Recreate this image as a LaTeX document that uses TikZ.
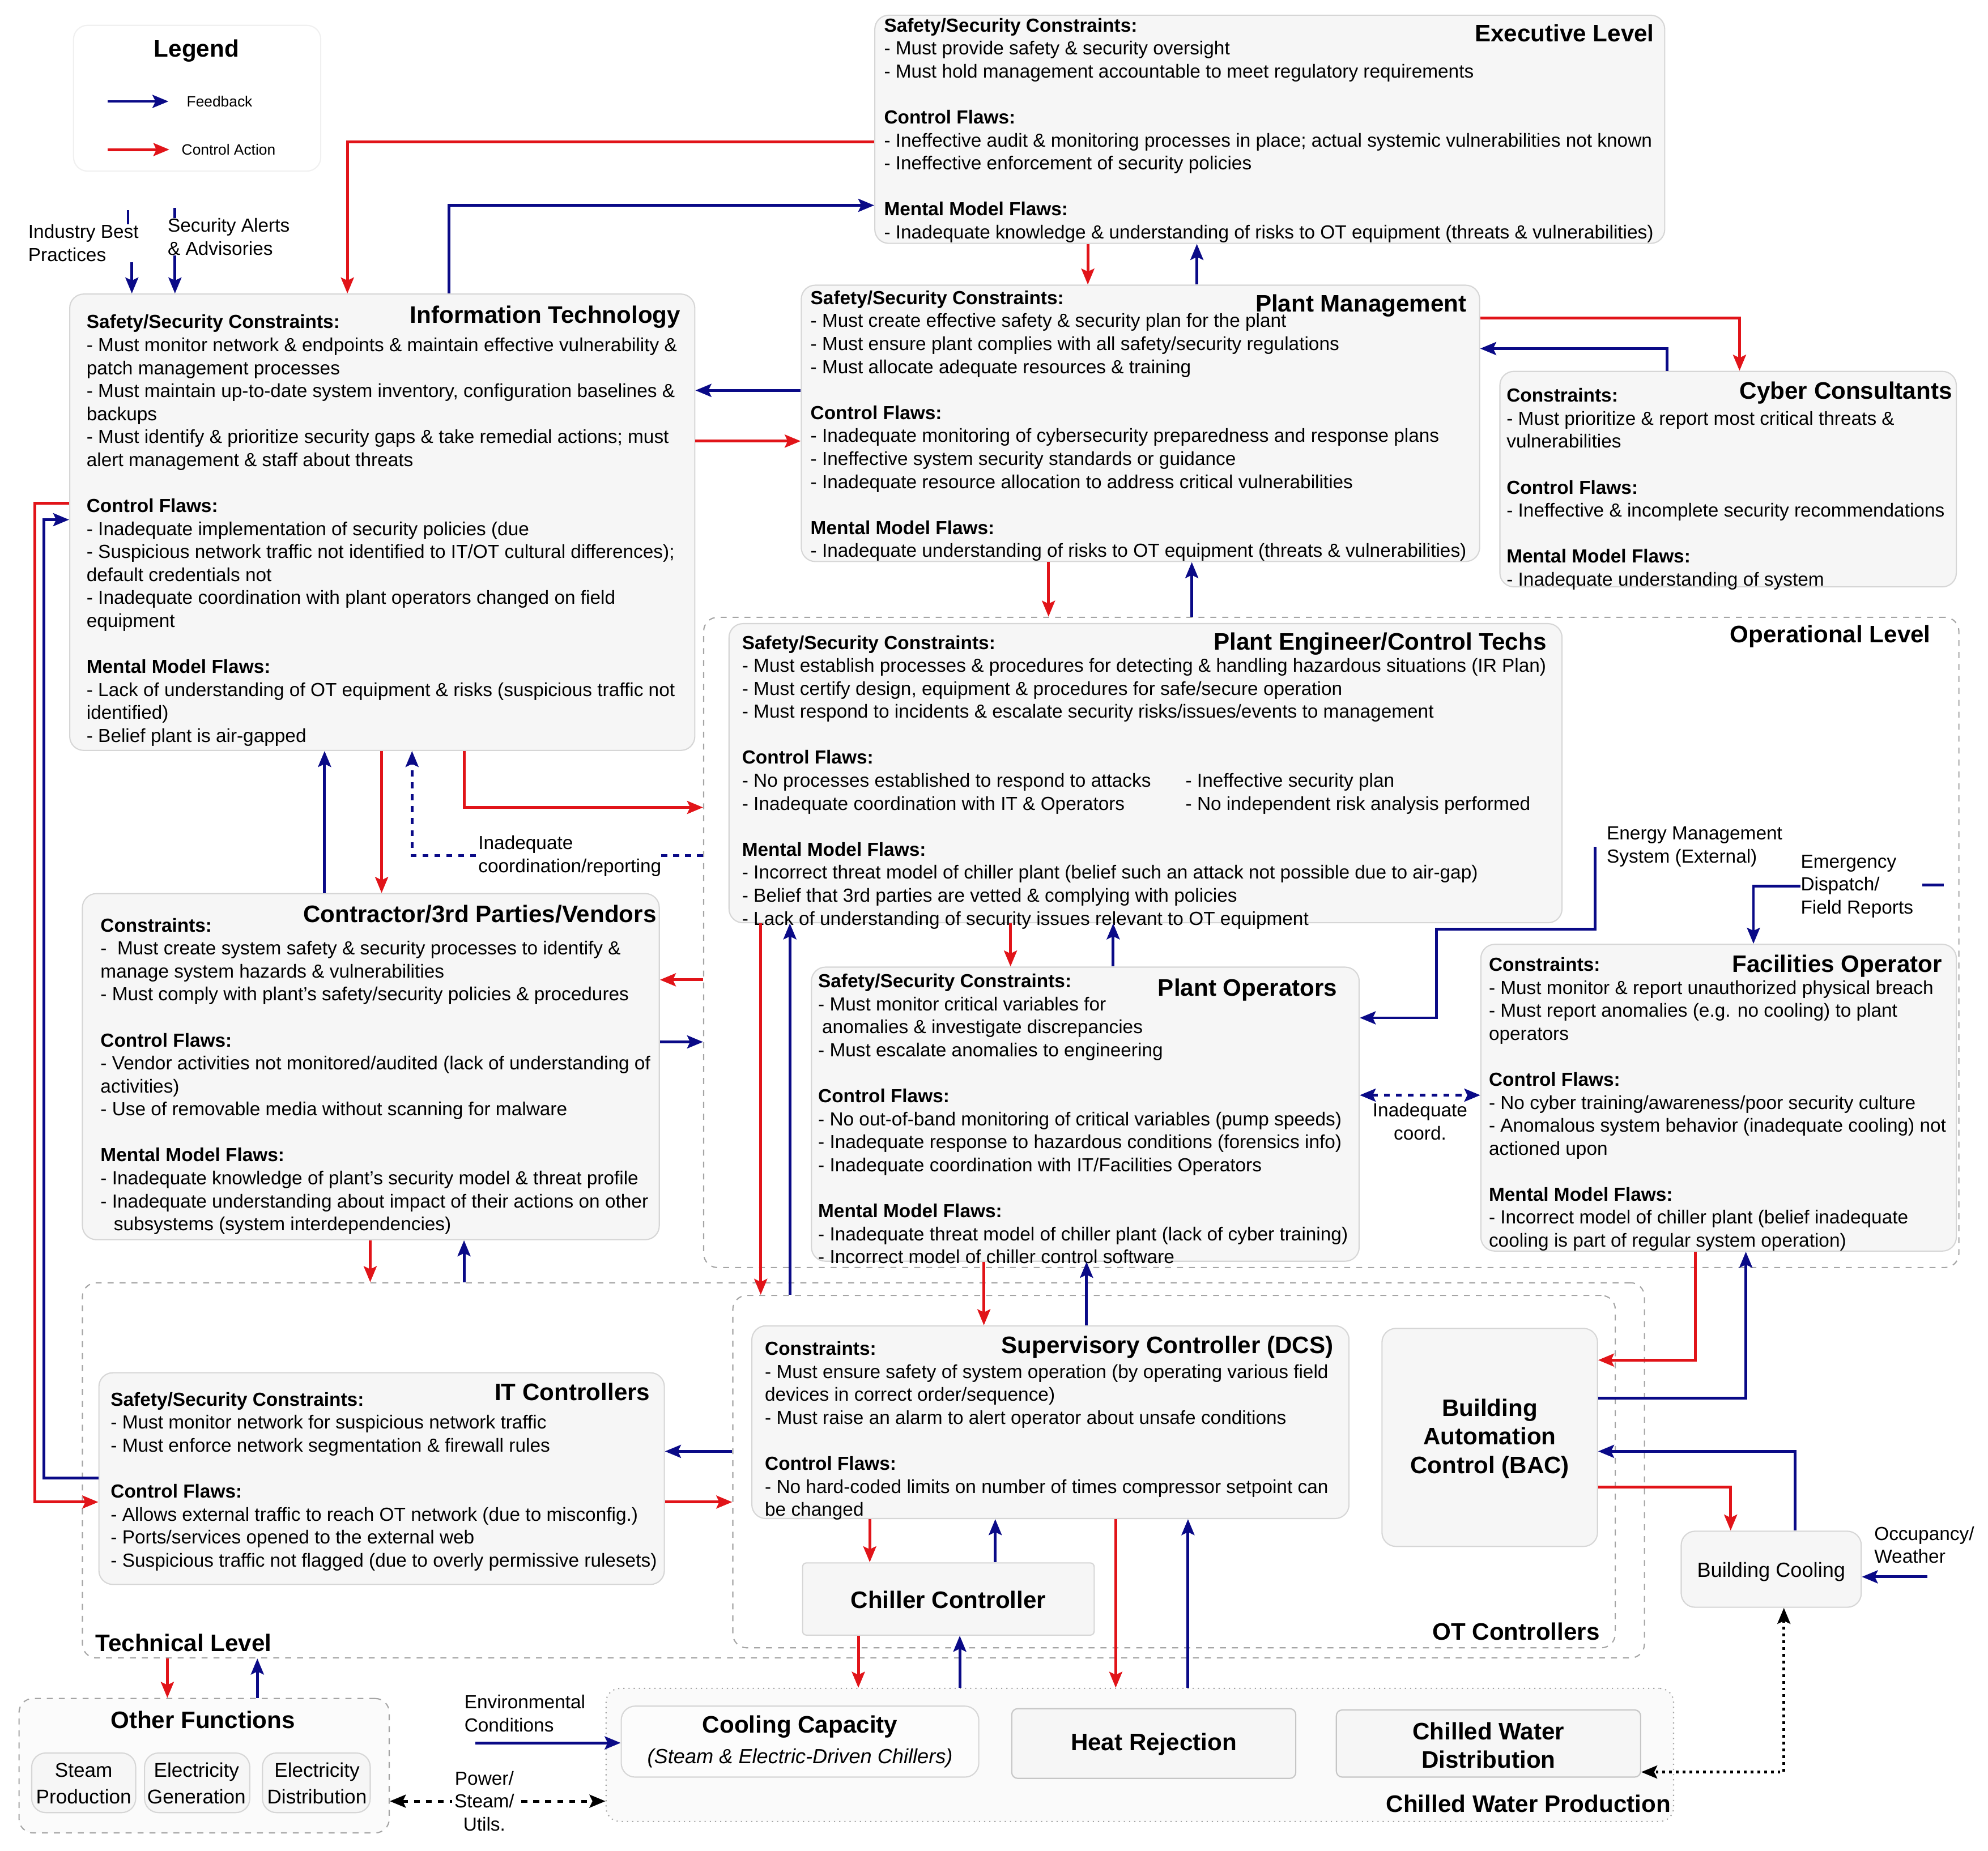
\documentclass[tikz,border=0pt]{standalone}
\usepackage{fontspec}
\setmainfont{Liberation Sans}
\usetikzlibrary{arrows.meta,fit}
\definecolor{fbblue}{RGB}{10,10,135}
\definecolor{cared}{RGB}{225,20,25}
\definecolor{boxbg}{RGB}{246,246,246}
\definecolor{boxline}{RGB}{214,214,214}
\definecolor{zoneline}{RGB}{165,165,165}
\newcommand{\sgap}{\\[11.55pt]}
\newcommand{\colA}[1]{\makebox[7.83cm][l]{#1}}

\begin{document}
\begin{tikzpicture}[x=0.022379cm, y=-0.022379cm,
  >={Stealth[length=8pt,width=6.5pt,inset=1.5pt]},
  box/.style={draw=boxline, fill=boxbg, line width=0.6pt, rounded corners=7pt, inner sep=0pt},
  zone/.style={draw=zoneline, dashed, line width=0.6pt, rounded corners=7pt, inner sep=0pt},
  txt/.style={anchor=north west, align=left, inner sep=0pt, font=\fontsize{9.5}{11.55}\selectfont},
  lbl/.style={align=left, inner sep=0pt, font=\fontsize{9.5}{11.55}\selectfont},
  ttl/.style={anchor=east, inner sep=0pt, font=\fontsize{12}{14}\selectfont\bfseries},
  big/.style={align=center, inner sep=0pt, font=\fontsize{12}{14.3}\selectfont\bfseries},
  sml/.style={align=center, inner sep=0pt, font=\fontsize{10}{13.4}\selectfont},
  fb/.style={fbblue, line width=1.4pt, ->},
  ca/.style={cared, line width=1.4pt, ->}]
\useasboundingbox (0,0) rectangle (1568,1460);

% zones
\node[zone, fit={(555,487) (1545,1000)}] (oplvl) {};
\node[zone, fit={(65,1012) (1297,1308)}] (tech) {};
\node[zone, fit={(578,1022) (1274,1300)}] (ot) {};
\node[zone, dotted, fill=gray!4, fit={(478,1332) (1320,1437)}] (cwp) {};
\node[zone, fill=gray!3, fit={(15,1340) (307,1446)}] (of) {};
\node[ttl] (opl) at (1523,502) {Operational Level};
\node[ttl, anchor=west] (tecl) at (75,1296) {Technical Level};
\node[ttl] (otl) at (1262,1287) {OT Controllers};
\node[ttl] (cwpl) at (1318,1423) {Chilled Water Production};
\node[ttl, anchor=center] (ofl) at (160,1357) {Other Functions};

% legend
\node[box, fill=white, draw=gray!12, fit={(58,20) (253,135)}] (legend) {};
\node[ttl, anchor=center] (legt) at (155,40) {Legend};
\node[lbl, anchor=west, font=\fontsize{7.5}{9}\selectfont] (lfb) at (147,80) {Feedback};
\node[lbl, anchor=west, font=\fontsize{7.5}{9}\selectfont] (lca) at (143,118) {Control Action};
\coordinate (lfbs) at (85,80);
\coordinate (lcas) at (85,118);
\draw[fb] (lfbs) -- ([xshift=-9pt]lfb.west);
\draw[ca] (lcas) -- ([xshift=-6pt]lca.west);

% executive level
\node[box, fit={(690,12) (1313,192)}] (exec) {};
\node[txt] (exect) at (697,14) {\textbf{Safety/Security Constraints:}\\
- Must provide safety \& security oversight\\
- Must hold management accountable to meet regulatory requirements\sgap
\textbf{Control Flaws:}\\
- Ineffective audit \& monitoring processes in place; actual systemic vulnerabilities not known\\
- Ineffective enforcement of security policies\sgap
\textbf{Mental Model Flaws:}\\
- Inadequate knowledge \& understanding of risks to OT equipment (threats \& vulnerabilities)};
\node[ttl] (execl) at (1305,26) {Executive Level};

% information technology
\node[box, fit={(55,232) (548,592)}] (it) {};
\node[txt] (itt) at (68,248) {\textbf{Safety/Security Constraints:}\\
- Must monitor network \& endpoints \& maintain effective vulnerability \&\\
patch management processes\\
- Must maintain up-to-date system inventory, configuration baselines \&\\
backups\\
- Must identify \& prioritize security gaps \& take remedial actions; must\\
alert management \& staff about threats\sgap
\textbf{Control Flaws:}\\
- Inadequate implementation of security policies (due\\
- Suspicious network traffic not identified to IT/OT cultural differences);\\
default credentials not\\
- Inadequate coordination with plant operators changed on field\\
equipment\sgap
\textbf{Mental Model Flaws:}\\
- Lack of understanding of OT equipment \& risks (suspicious traffic not\\
identified)\\
- Belief plant is air-gapped};
\node[ttl] (itl) at (537,250) {Information Technology};

% plant management
\node[box, fit={(632,225) (1167,443)}] (pm) {};
\node[txt] (pmt) at (639,229) {\textbf{Safety/Security Constraints:}\\
- Must create effective safety \& security plan for the plant\\
- Must ensure plant complies with all safety/security regulations\\
- Must allocate adequate resources \& training\sgap
\textbf{Control Flaws:}\\
- Inadequate monitoring of cybersecurity preparedness and response plans\\
- Ineffective system security standards or guidance\\
- Inadequate resource allocation to address critical vulnerabilities\sgap
\textbf{Mental Model Flaws:}\\
- Inadequate understanding of risks to OT equipment (threats \& vulnerabilities)};
\node[ttl] (pml) at (1157,241) {Plant Management};

% cyber consultants
\node[box, fit={(1183,293) (1543,463)}] (cc) {};
\node[txt] (cct) at (1188,306) {\textbf{Constraints:}\\
- Must prioritize \& report most critical threats \&\\
vulnerabilities\sgap
\textbf{Control Flaws:}\\
- Ineffective \& incomplete security recommendations\sgap
\textbf{Mental Model Flaws:}\\
- Inadequate understanding of system};
\node[ttl] (ccl) at (1540,310) {Cyber Consultants};

% plant engineer
\node[box, fit={(575,492) (1232,728)}] (pe) {};
\node[txt] (pet) at (585,501) {\textbf{Safety/Security Constraints:}\\
- Must establish processes \& procedures for detecting \& handling hazardous situations (IR Plan)\\
- Must certify design, equipment \& procedures for safe/secure operation\\
- Must respond to incidents \& escalate security risks/issues/events to management\sgap
\textbf{Control Flaws:}\\
\colA{- No processes established to respond to attacks}- Ineffective security plan\\
\colA{- Inadequate coordination with IT \& Operators}- No independent risk analysis performed\sgap
\textbf{Mental Model Flaws:}\\
- Incorrect threat model of chiller plant (belief such an attack not possible due to air-gap)\\
- Belief that 3rd parties are vetted \& complying with policies\\
- Lack of understanding of security issues relevant to OT equipment};
\node[ttl] (pel) at (1220,508) {Plant Engineer/Control Techs};

% contractors
\node[box, fit={(65,705) (520,978)}] (con) {};
\node[txt] (cont) at (79,724) {\textbf{Constraints:}\\
-\ \ Must create system safety \& security processes to identify \&\\
manage system hazards \& vulnerabilities\\
- Must comply with plant's safety/security policies \& procedures\sgap
\textbf{Control Flaws:}\\
- Vendor activities not monitored/audited (lack of understanding of\\
activities)\\
- Use of removable media without scanning for malware\sgap
\textbf{Mental Model Flaws:}\\
- Inadequate knowledge of plant's security model \& threat profile\\
- Inadequate understanding about impact of their actions on other\\
\hspace*{0.7em}subsystems (system interdependencies)};
\node[ttl] (conl) at (518,721) {Contractor/3rd Parties/Vendors};

% plant operators
\node[box, fit={(640,763) (1072,995)}] (po) {};
\node[txt] (pot) at (645,768) {\textbf{Safety/Security Constraints:}\\
- Must monitor critical variables for\\
\hspace*{2pt}anomalies \& investigate discrepancies\\
- Must escalate anomalies to engineering\sgap
\textbf{Control Flaws:}\\
- No out-of-band monitoring of critical variables (pump speeds)\\
- Inadequate response to hazardous conditions (forensics info)\\
- Inadequate coordination with IT/Facilities Operators\sgap
\textbf{Mental Model Flaws:}\\
- Inadequate threat model of chiller plant (lack of cyber training)\\
- Incorrect model of chiller control software};
\node[ttl] (pol) at (1055,781) {Plant Operators};

% facilities operator
\node[box, fit={(1168,745) (1543,987)}] (fo) {};
\node[txt] (fot) at (1174,755) {\textbf{Constraints:}\\
- Must monitor \& report unauthorized physical breach\\
- Must report anomalies (e.g. no cooling) to plant\\
operators\sgap
\textbf{Control Flaws:}\\
- No cyber training/awareness/poor security culture\\
- Anomalous system behavior (inadequate cooling) not\\
actioned upon\sgap
\textbf{Mental Model Flaws:}\\
- Incorrect model of chiller plant (belief inadequate\\
cooling is part of regular system operation)};
\node[ttl] (fol) at (1532,762) {Facilities Operator};

% supervisory controller
\node[box, fit={(593,1046) (1064,1198)}] (sc) {};
\node[txt] (sct) at (603,1058) {\textbf{Constraints:}\\
- Must ensure safety of system operation (by operating various field\\
devices in correct order/sequence)\\
- Must raise an alarm to alert operator about unsafe conditions\sgap
\textbf{Control Flaws:}\\
- No hard-coded limits on number of times compressor setpoint can\\
be changed};
\node[ttl] (scl) at (1052,1063) {Supervisory Controller (DCS)};

% IT controllers
\node[box, fit={(78,1083) (524,1250)}] (itc) {};
\node[txt] (itct) at (87,1098) {\textbf{Safety/Security Constraints:}\\
- Must monitor network for suspicious network traffic\\
- Must enforce network segmentation \& firewall rules\sgap
\textbf{Control Flaws:}\\
- Allows external traffic to reach OT network (due to misconfig.)\\
- Ports/services opened to the external web\\
- Suspicious traffic not flagged (due to overly permissive rulesets)};
\node[ttl] (itcl) at (513,1098) {IT Controllers};

% technical boxes
\node[box, fit={(1090,1048) (1260,1220)}] (bac) {};
\node[big] (bact) at (1175,1135) {Building\\Automation\\Control (BAC)};
\node[box, rounded corners=2pt, fit={(633,1233) (863,1290)}] (ch) {};
\node[big] (cht) at (748,1262) {Chiller Controller};
\node[box, fit={(1326,1208) (1468,1268)}] (bc) {};
\node[sml, font=\fontsize{10.3}{12}\selectfont] (bct) at (1397,1240) {Building Cooling};
\node[box, fill=gray!2, fit={(490,1346) (772,1402)}] (ccap) {};
\node[big] (ccapt) at (631,1374) {Cooling Capacity\\[1pt]{\mdseries\itshape\fontsize{10.3}{12}\selectfont (Steam \& Electric-Driven Chillers)}};
\node[box, rounded corners=3pt, draw=gray!45, fit={(798,1348) (1022,1403)}] (hr) {};
\node[big] (hrt) at (910,1376) {Heat Rejection};
\node[box, rounded corners=3pt, draw=gray!45, fit={(1054,1349) (1294,1402)}] (cwd) {};
\node[big] (cwdt) at (1174,1377) {Chilled Water\\Distribution};
\node[box, fit={(25,1383) (107,1430)}] (sp) {};
\node[sml] (spt) at (66,1407) {Steam\\Production};
\node[box, fit={(114,1383) (197,1430)}] (eg) {};
\node[sml] (egt) at (155,1407) {Electricity\\Generation};
\node[box, fit={(207,1383) (292,1430)}] (ed) {};
\node[sml] (edt) at (250,1407) {Electricity\\Distribution};

% outside labels
\node[lbl, anchor=north west] (ibp) at (22,177) {Industry Best\\Practices};
\node[lbl, anchor=north west] (saa) at (132,172) {Security Alerts\\\& Advisories};
\node[lbl, anchor=north west] (ems) at (1267,652) {Energy Management\\System (External)};
\node[lbl, anchor=north west] (edfr) at (1420,674) {Emergency\\Dispatch/\\Field Reports};
\node[lbl, anchor=north west] (occ) at (1478,1204) {Occupancy/\\Weather};
\node[lbl, anchor=north west] (env) at (366,1337) {Environmental\\Conditions};
\coordinate (occs) at (1520,1244);
\coordinate (envs) at (375,1375);

% executive connections
\draw[ca] (exec.west |- 0,112) -| (it.north -| 274,0);
\draw[fb] (it.north -| 354,0) |- (exec.west |- 0,162);
\draw[ca] (exec.south -| 858,0) -- (pm.north -| 858,0);
\draw[fb] (pm.north -| 944,0) -- (exec.south -| 944,0);
\draw[fbblue, line width=1.4pt] (ibp.north -| 101,0) -- ++(0,-11);
\draw[fbblue, line width=1.4pt] (saa.north -| 138,0) -- ++(0,-8);
\draw[fb] (ibp.south -| 104,0) -- (it.north -| 104,0);
\draw[fb] (saa.south -| 138,0) -- (it.north -| 138,0);

% management connections
\draw[fb] (pm.west |- 0,308) -- (it.east |- 0,308);
\draw[ca] (it.east |- 0,348) -- (pm.west |- 0,348);
\draw[ca] (pm.east |- 0,251) -| (cc.north -| 1372,0);
\draw[fb] (cc.north -| 1315,0) |- (pm.east |- 0,275);
\draw[ca] (pm.south -| 827,0) -- (oplvl.north -| 827,0);
\draw[fb] (oplvl.north -| 940,0) -- (pm.south -| 940,0);

% IT and contractors
\draw[fb] (con.north -| 256,0) -- (it.south -| 256,0);
\draw[ca] (it.south -| 301,0) -- (con.north -| 301,0);
\draw[fb, dashed] (oplvl.west |- 0,675) -| (it.south -| 325,0);
\draw[ca] (it.south -| 366,0) |- (oplvl.west |- 0,637);
\draw[ca] (oplvl.west |- 0,773) -- (con.east |- 0,773);
\draw[fb] (con.east |- 0,822) -- (oplvl.west |- 0,822);
\draw[ca] (con.south -| 292,0) -- (tech.north -| 292,0);
\draw[fb] (tech.north -| 366,0) -- (con.south -| 366,0);
\draw[fb] (itc.west |- 0,1166) -- ++(-43,0) |- (it.west |- 0,410);
\draw[ca] (it.west |- 0,397) -- ++(-27,0) |- (itc.west |- 0,1185);
\node[lbl, fill=white, anchor=north west] (coordlbl) at (377,659) {Inadequate\\coordination/reporting};

% operational connections
\draw[ca] (pe.south -| 797,0) -- (po.north -| 797,0);
\draw[fb] (po.north -| 878,0) -- (pe.south -| 878,0);
\draw[ca] (pe.south -| 600,0) -- (ot.north -| 600,0);
\draw[fb] (ot.north -| 623,0) -- (pe.south -| 623,0);
\draw[fb] (ems.west -| 1258,0) |- (1133,733) |- (po.east |- 0,803);
\draw[fb] (edfr.west) -| (fo.north -| 1383,0);
\draw[fbblue, line width=1.4pt] (edfr.east |- 0,698) ++(7,0) -- ++(17,0);
\draw[fb, dashed, <->] (po.east |- 0,864) -- (fo.west |- 0,864);
\node[lbl, align=center, anchor=north] (inadc) at (1120,870) {Inadequate\\coord.};

% technical connections
\draw[ca] (po.south -| 776,0) -- (sc.north -| 776,0);
\draw[fb] (sc.north -| 857,0) -- (po.south -| 857,0);
\draw[fb] (ot.west |- 0,1145) -- (itc.east |- 0,1145);
\draw[ca] (itc.east |- 0,1185) -- (ot.west |- 0,1185);
\draw[ca] (sc.south -| 686,0) -- (ch.north -| 686,0);
\draw[fb] (ch.north -| 785,0) -- (sc.south -| 785,0);
\draw[ca] (ch.south -| 677,0) -- (cwp.north -| 677,0);
\draw[fb] (cwp.north -| 757,0) -- (ch.south -| 757,0);
\draw[ca] (sc.south -| 880,0) -- (cwp.north -| 880,0);
\draw[fb] (cwp.north -| 937,0) -- (sc.south -| 937,0);
\draw[ca] (fo.south -| 1337,0) |- (bac.east |- 0,1073);
\draw[fb] (bac.east |- 0,1103) -| (fo.south -| 1377,0);
\draw[ca] (bac.east |- 0,1173) -| (bc.north -| 1365,0);
\draw[fb] (bc.north -| 1416,0) |- (bac.east |- 0,1145);
\draw[fb] (occs) -- (bc.east |- occs);
\draw[black, dotted, line width=1.4pt, <->] (bc.south -| 1407,0) |- (cwd.east |- 0,1398);
\draw[ca] (tech.south -| 132,0) -- (of.north -| 132,0);
\draw[fb] (of.north -| 203,0) -- (tech.south -| 203,0);
\draw[fb] (envs) -- (ccap.west |- envs);
\draw[black, dashed, line width=1.4pt, <->] (of.east |- 0,1421) -- (cwp.west |- 0,1421);
\node[lbl, align=center, fill=white, inner sep=1pt] (pwr) at (382,1421) {Power/\\Steam/\\Utils.};
\end{tikzpicture}
\end{document}
